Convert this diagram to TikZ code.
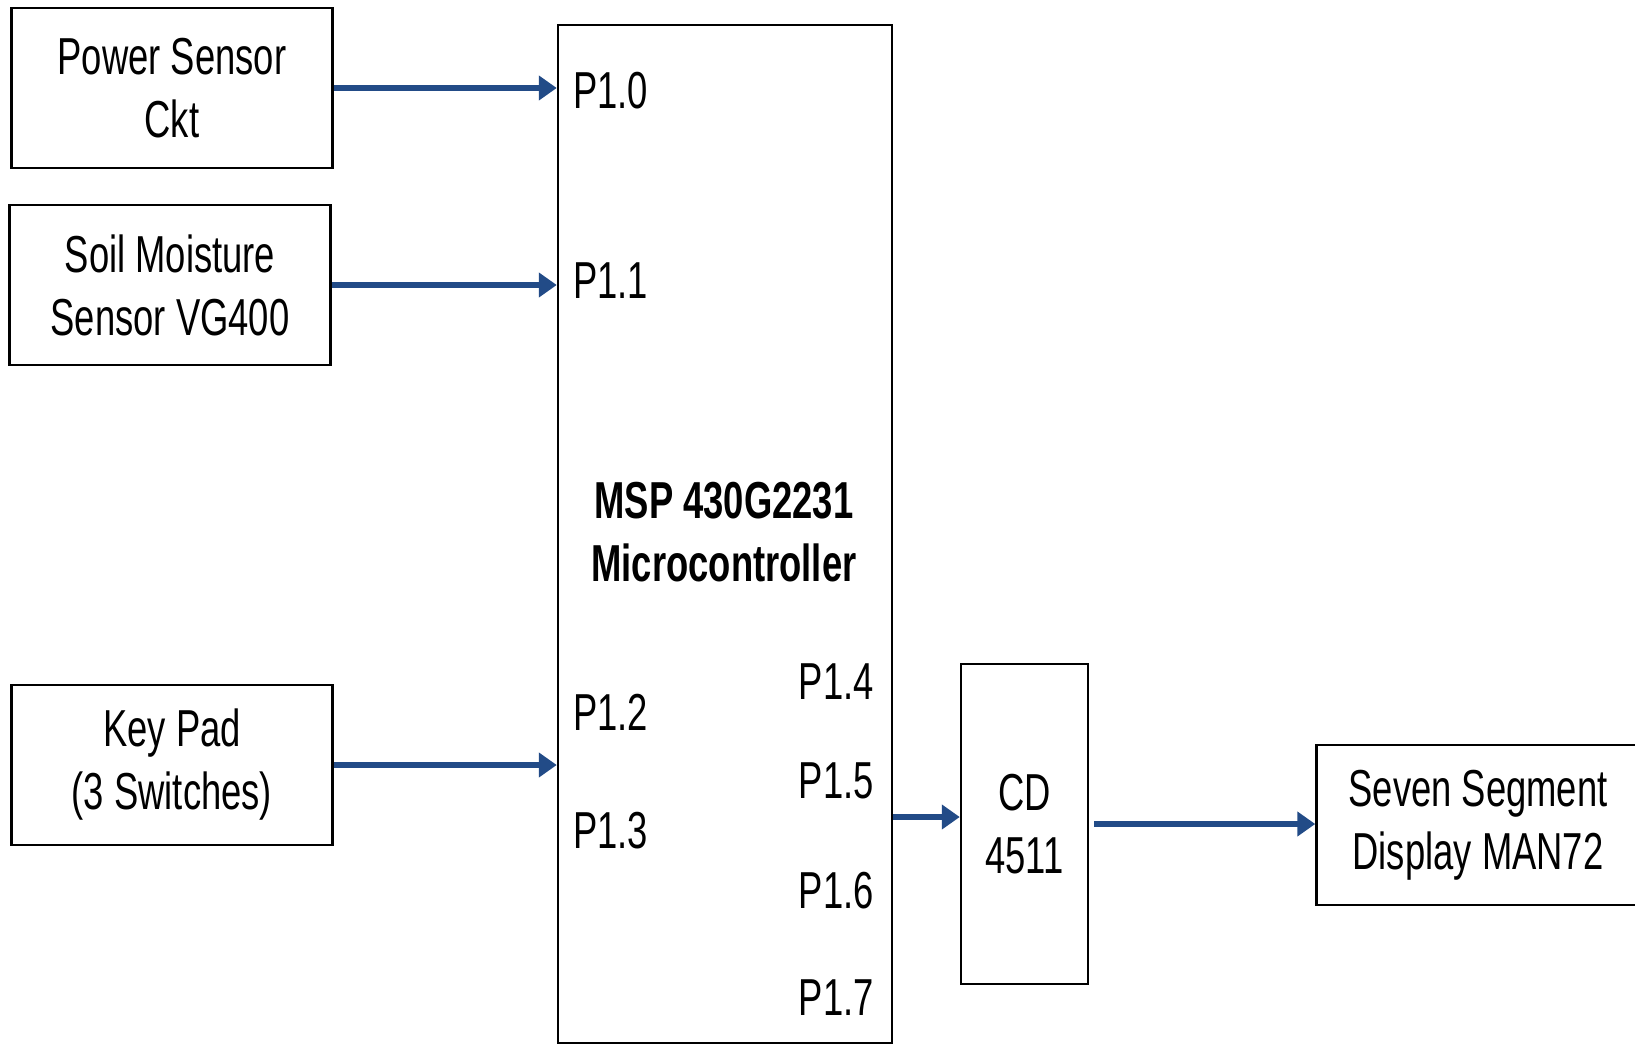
\documentclass[tikz,border=0pt]{standalone}
\usepackage{fontspec}
\setmainfont[FakeStretch=0.7]{Liberation Sans}
\usetikzlibrary{arrows.meta, positioning, calc}
\definecolor{wireblue}{RGB}{34,75,135}
\tikzset{
    box/.style={draw=black, line width=2.5pt, fill=white, align=center, inner sep=0pt, font=\fontsize{52}{63}\selectfont},
    arrow/.style={-{Triangle[length=18pt, width=24pt]}, line width=5.5pt, wireblue},
    portlabel/.style={inner sep=0pt, font=\fontsize{52}{63}\selectfont}
}

\begin{document}
\begin{tikzpicture}[x=1pt, y=-1pt]
        \useasboundingbox (0,0) rectangle (1635,1044);
        \node [box, minimum width=321pt, minimum height=160pt] (power) at (172,88) {Power Sensor \\ Ckt};
        \node [box, minimum width=321pt, minimum height=160pt] (soil) at (170,285) {Soil Moisture \\ Sensor VG400};
        \node [box, minimum width=321pt, minimum height=160pt] (keypad) at (172,765) {Key Pad \\ (3 Switches)};
        \node [box, minimum width=334pt, minimum height=1018pt] (mcu) at (725,534) {};
        \node [font=\bfseries\fontsize{52}{63}\selectfont, align=center, inner sep=0pt] (mcutitle) at (724,532) {MSP 430G2231 \\ Microcontroller};
        \node [box, minimum width=127pt, minimum height=320pt] (cd) at (1024.5,824) {CD \\ 4511};
        \node [box, minimum width=323pt, minimum height=160pt] (seven) at (1478,825) {Seven Segment \\ Display MAN72};
        % port labels
        \node [portlabel, anchor=west] (p10) at (573,91) {P1.0};
        \node [portlabel, anchor=west] (p11) at (573,281) {P1.1};
        \node [portlabel, anchor=west] (p12) at (573,712) {P1.2};
        \node [portlabel, anchor=west] (p13) at (573,831) {P1.3};
        \node [portlabel, anchor=east] (p14) at (874,682) {P1.4};
        \node [portlabel, anchor=east] (p15) at (874,781) {P1.5};
        \node [portlabel, anchor=east] (p16) at (874,891) {P1.6};
        \node [portlabel, anchor=east] (p17) at (874,998) {P1.7};
        \draw [arrow] (power.east) -- (power.east -| mcu.west);
        \draw [arrow] (soil.east) -- (soil.east -| mcu.west);
        \draw [arrow] (keypad.east) -- (keypad.east -| mcu.west);
        \draw [arrow] ($(mcu.east |- cd.west)+(0,-7)$) -- ($(cd.west)+(0,-7)$);
        \draw [arrow, shorten <=5pt] (cd.east) -- (cd.east -| seven.west);
    \end{tikzpicture}
\end{document}
